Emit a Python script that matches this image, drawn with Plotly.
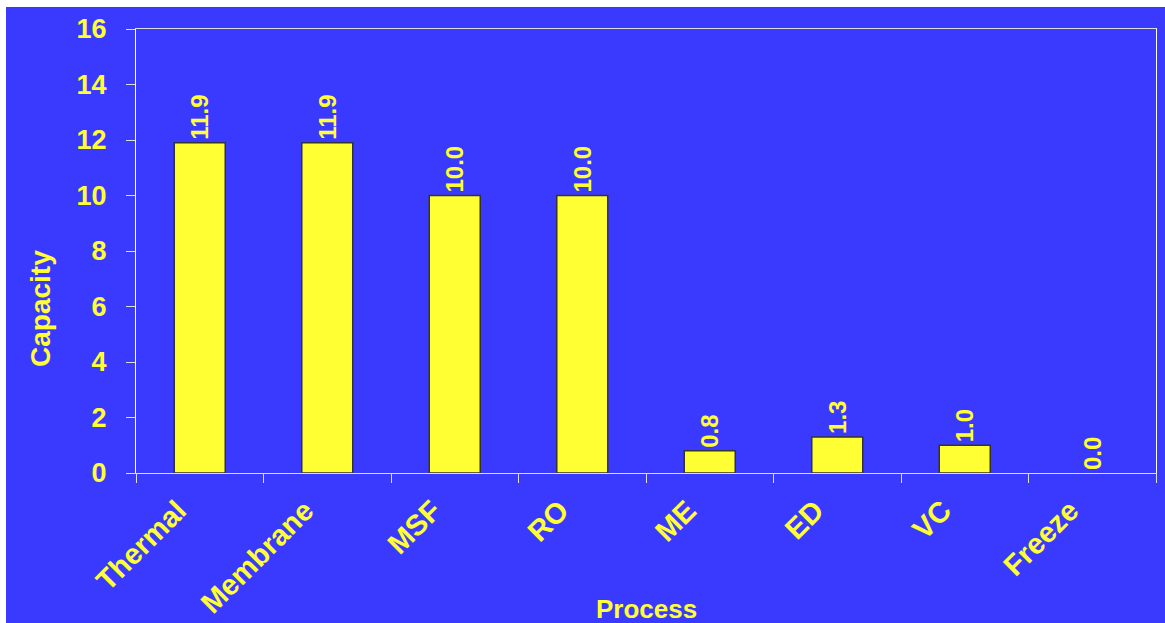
import plotly.graph_objects as go

categories = ["Thermal", "Membrane", "MSF", "RO", "ME", "ED", "VC", "Freeze"]
capacity = [11.9, 11.9, 10.0, 10.0, 0.8, 1.3, 1.0, 0.0]
y_ticks = [0, 2, 4, 6, 8, 10, 12, 14, 16]

BLUE = "#3a3aff"
YELLOW = "#ffff33"
FONT = "Liberation Sans, Arial, sans-serif"

W, H = 1165, 623
L, R, T, B = 136, 9, 29, 150
pw, ph = W - L - R, H - T - B

fig = go.Figure(go.Bar(
    x=categories, y=capacity, width=0.4,
    marker=dict(color=YELLOW,
                line=dict(color="#333333",
                          width=[1.5 if v > 0 else 0 for v in capacity])),
    texttemplate="%{y:.1f}", textposition="outside", textangle=-90,
    textfont=dict(family=FONT, size=24, color=YELLOW, weight="bold"),
    cliponaxis=False,
))

fig.update_layout(
    width=W, height=H,
    margin=dict(l=L, r=R, t=T, b=B, pad=0),
    paper_bgcolor=BLUE, plot_bgcolor=BLUE,
    showlegend=False,
    font=dict(family=FONT, color=YELLOW),
    xaxis=dict(
        automargin=False,
        tickangle=-45, tickson="boundaries", ticks="outside", ticklen=9,
        tickcolor="#dddddd", showline=True, linecolor="#dddddd", linewidth=1,
        mirror=True, showgrid=False, ticklabelstandoff=8, ticklabelshift=-22,
        tickfont=dict(family=FONT, size=29, color=YELLOW, weight="bold"),
    ),
    yaxis=dict(
        automargin=False,
        range=[0, 16], tickvals=y_ticks, ticks="outside", ticklen=9,
        tickcolor="#dddddd", showline=True, linecolor="#ffffff", linewidth=1,
        mirror=True, showgrid=False, zeroline=False, ticklabelstandoff=14,
        tickfont=dict(family=FONT, size=27, color=YELLOW, weight="bold"),
    ),
    annotations=[
        dict(text="Process", xref="paper", yref="paper", showarrow=False,
             x=(646 - L) / pw, y=-(609 - T - ph) / ph, xanchor="center", yanchor="middle",
             font=dict(family=FONT, size=26, color=YELLOW, weight="bold")),
        dict(text="Capacity", xref="paper", yref="paper", showarrow=False, textangle=-90,
             x=-(L - 40) / pw, y=1 - (309 - T) / ph, xanchor="center", yanchor="middle",
             font=dict(family=FONT, size=28, color=YELLOW, weight="bold")),
    ],
    shapes=[
        dict(type="rect", xref="paper", yref="paper", layer="above",
             x0=-L / pw, x1=-(L - 6) / pw, y0=-B / ph, y1=1 + T / ph,
             fillcolor="white", line=dict(width=0)),
        dict(type="rect", xref="paper", yref="paper", layer="above",
             x0=-L / pw, x1=1 + R / pw, y0=1 + (T - 7) / ph, y1=1 + T / ph,
             fillcolor="white", line=dict(width=0)),
    ],
)

fig.write_html("out.html")
